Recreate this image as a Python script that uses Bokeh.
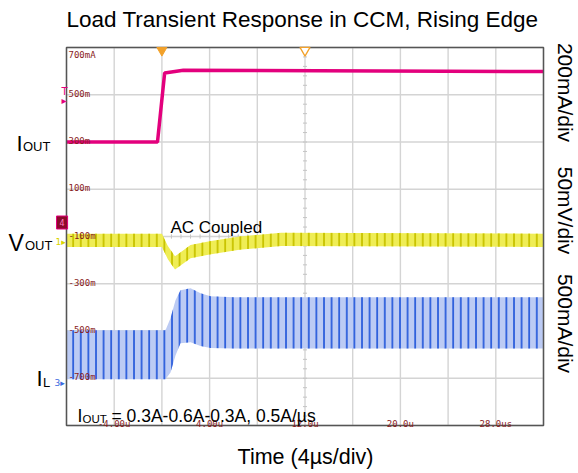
import math
from bokeh.plotting import figure
from bokeh.models import Range1d, Label
from bokeh.core.properties import value
from bokeh.embed import file_html
from bokeh.resources import INLINE

# ---------------- data ----------------
title_text = "Load Transient Response in CCM, Rising Edge"
x_label_text = "Time (4µs/div)"
scale_labels = ["200mA/div", "50mV/div", "500mA/div"]
annotation_rest = "= 0.3A-0.6A-0.3A, 0.5A/µs"

time_ticks = [-4, 4, 12, 20, 28]
time_tick_labels = ["-4.00u", "4.00u", "12.0u", "20.0u", "28.0us"]
iout_ticks = [700, 500, 300, 100, -100, -300, -500, -700]
iout_tick_labels = ["700mA", "500m", "300m", "100m", "-100m", "-300m", "-500m", "-700m"]

# I_OUT (mA) vs time (us)
t_iout = [-8.0, -0.37, 0.23, 1.8, 32.0]
iout_ma = [300, 300, 592, 604, 598]

# V_OUT (mV, AC coupled) ripple envelope vs time (us)
t_vout = [-8.0, 0.0, 0.5, 1.1, 2.4, 4.0, 6.5, 10.0, 32.0]
vout_hi_mv = [3, 3, -10, -21, -9, -5, 0, 4, 3]
vout_lo_mv = [-11, -11, -24, -35, -23, -19, -14, -10, -11]

# I_L (mA) ripple envelope vs time (us)
t_il = [-8.0, 0.3, 0.72, 1.14, 1.56, 2.4, 3.24, 4.08, 6.0, 32.0]
il_hi_ma = [508, 508, 635, 825, 931, 952, 899, 868, 857, 857]
il_lo_ma = [-10, -10, 60, 240, 370, 380, 340, 320, 315, 315]

trigger_times = [0, 12]

# scope screen: 10 x 8 divisions, 4 us/div
T0, T1 = -8.0, 32.0
NDIV_X, NDIV_Y = 10, 8
# channel scales: (value at bottom grid line, units per division)
CH_IOUT = (-900.0, 200.0)
CH_VOUT = (-200.0, 50.0)
CH_IL = (-500.0, 500.0)

# ---------------- layout (pixels) ----------------
W, H = 576, 471
SX0, SX1, SY0, SY1 = 66.0, 543.0, 47.0, 425.0   # scope area (left, right, top, bottom)
px_per_us = (SX1 - SX0) / (T1 - T0)
px_per_div = (SY1 - SY0) / NDIV_Y
x_start = T0 - SX0 / px_per_us
x_end = T1 + (W - SX1) / px_per_us
d_start = -(H - SY1) / px_per_div
d_end = NDIV_Y + SY0 / px_per_div


def ch_range(ch):
    v0, per = ch
    return Range1d(v0 + d_start * per, v0 + d_end * per)


p = figure(width=W, height=H, x_range=Range1d(x_start, x_end), y_range=Range1d(d_start, d_end),
           output_backend="svg", toolbar_location=None,
           x_axis_location=None, y_axis_location=None, min_border=0)
p.extra_y_ranges = {"iout": ch_range(CH_IOUT), "vout": ch_range(CH_VOUT), "il": ch_range(CH_IL)}
p.grid.visible = False
p.outline_line_color = None
p.background_fill_color = "white"
p.border_fill_color = "white"

# grid
xg = [T0 + i * (T1 - T0) / NDIV_X for i in range(NDIV_X + 1)]
yg = list(range(NDIV_Y + 1))
p.segment(x0=xg, x1=xg, y0=[0] * len(xg), y1=[NDIV_Y] * len(xg), line_color="#d4d4d4", line_width=1.4)
p.segment(x0=[T0] * len(yg), x1=[T1] * len(yg), y0=yg, y1=yg, line_color="#d4d4d4", line_width=1.4)

# center-cross minor ticks
xc = (T0 + T1) / 2
yc = NDIV_Y / 2
ys_minor = [0.2 * i for i in range(5 * NDIV_Y + 1)]
xs_minor = [T0 + 0.8 * i for i in range(5 * NDIV_X + 1)]
p.segment(x0=[xc - 0.17] * len(ys_minor), x1=[xc + 0.17] * len(ys_minor),
          y0=ys_minor, y1=ys_minor, line_color="#c4c4c4", line_width=1)
p.segment(x0=xs_minor, x1=xs_minor, y0=[yc - 0.045] * len(xs_minor),
          y1=[yc + 0.045] * len(xs_minor), line_color="#c4c4c4", line_width=1)

# traces
p.varea(x=t_il, y1=il_lo_ma, y2=il_hi_ma, y_range_name="il",
        fill_color="#bccbf4", hatch_pattern="vertical_line", hatch_color="#2e5fdc",
        hatch_scale=7.6, hatch_weight=1.8)
p.varea(x=t_vout, y1=vout_lo_mv, y2=vout_hi_mv, y_range_name="vout",
        fill_color="#efed55", hatch_pattern="vertical_line", hatch_color="#c8c300",
        hatch_scale=7.6, hatch_weight=1.8)
p.line(x=t_iout, y=iout_ma, y_range_name="iout", line_color="#e3007d", line_width=3.5)

# scope frame
p.quad(left=[T0], right=[T1], bottom=[0], top=[NDIV_Y], fill_color=None,
       line_color="#555555", line_width=1.5)

# tick labels (scope style)
tick_col = "#8a1c1c"
mono = value("DejaVu Sans Mono")
p.text(x=[T0], y=iout_ticks[:1], text=iout_tick_labels[:1], y_range_name="iout",
       x_offset=2, y_offset=2, text_baseline="top", text_align="left",
       text_font=mono, text_font_size=value("9px"), text_color=tick_col)
p.text(x=[T0] * (len(iout_ticks) - 1), y=iout_ticks[1:], text=iout_tick_labels[1:],
       y_range_name="iout", x_offset=2, y_offset=-1, text_baseline="alphabetic",
       text_align="left", text_font=mono, text_font_size=value("9px"), text_color=tick_col)
p.text(x=time_ticks, y=[0] * len(time_ticks), text=time_tick_labels,
       y_offset=-1.5, text_baseline="alphabetic", text_align="center",
       text_font=mono, text_font_size=value("9px"), text_color=tick_col)

# trigger markers
p.scatter(x=trigger_times[:1], y=[NDIV_Y - 0.06], marker="inverted_triangle", size=10,
          fill_color="#f2a12a", line_color="#f2a12a")
p.scatter(x=trigger_times[1:], y=[NDIV_Y - 0.06], marker="inverted_triangle", size=10,
          fill_color="white", line_color="#f2a12a", line_width=1.3)


# ---------------- text annotations (page pixel positions) ----------------
def lab(X, Y, text, size, color="black", align="left", baseline="alphabetic", angle=0.0,
        font="Liberation Sans", **kw):
    p.add_layout(Label(x=X, y=H - Y, x_units="screen", y_units="screen", text=text,
                       text_font=font, text_font_size=size, text_color=color,
                       text_align=align, text_baseline=baseline, angle=angle, **kw))


lab(302, 19, title_text, "22.5px", align="center", baseline="middle")
lab(305, 456, x_label_text, "21.5px", align="center", baseline="middle")
for txt, yc_ in zip(scale_labels, [92, 210, 323]):
    lab(565, yc_, txt, "21px", align="center", baseline="middle", angle=-math.pi / 2)

# left channel names
lab(16, 143, "I", "22px")
lab(22.5, 146, "OUT", "13px")
lab(8, 242, "V", "23px")
lab(24.5, 245, "OUT", "13px")
lab(36, 378, "I", "22px")
lab(42.5, 382, "L", "13px")

# in-plot annotations
lab(170, 227, "AC Coupled", "17px")
lab(77, 415, "I", "17.5px")
lab(82, 418, "OUT", "11.5px")
lab(111, 415, annotation_rest, "17.5px")

# channel markers at left edge
lab(61, 91, "T", "10px", color="#e3007d", font="DejaVu Sans")
lab(61, 100, "▸", "10px", color="#e3007d", font="DejaVu Sans")
lab(56, 222, "4", "8px", color="#ff7fbf", font="DejaVu Sans",
    background_fill_color="#8b0a2a", border_line_color="#e3007d", padding=3)
lab(55, 241, "1▸", "9px", color="#d8d400", font="DejaVu Sans")
lab(54, 382, "3▸", "9px", color="#3a6be0", font="DejaVu Sans")

open("out.html", "w").write(file_html(p, INLINE))
